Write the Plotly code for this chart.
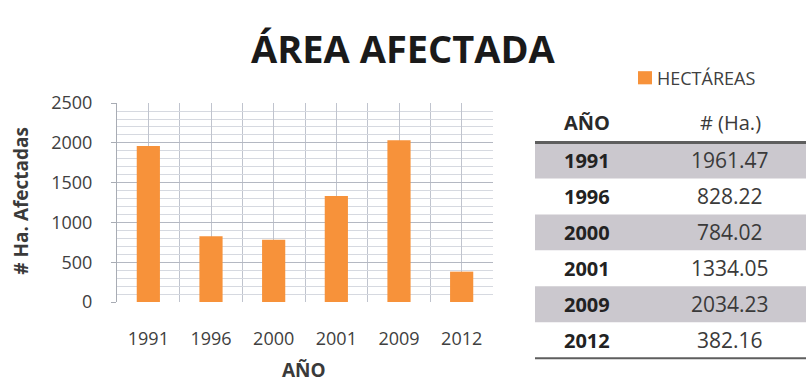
import plotly.graph_objects as go

# Hectares affected per year
years = ["1991", "1996", "2000", "2001", "2009", "2012"]
hectares = [1961.47, 828.22, 784.02, 1334.05, 2034.23, 382.16]
y_ticks = [0, 500, 1000, 1500, 2000, 2500]

W, H = 806, 390
# plot area in pixels
PX0, PX1, PY0, PY1 = 117, 493, 96, 308

ORANGE = "#F7923A"
TXT = "#3a3a3a"
FONT = "Open Sans"


def fx(px):
    return px / W


def fy(py):
    return 1 - py / H


idx = list(range(len(years)))

fig = go.Figure()
fig.add_trace(go.Bar(
    x=idx, y=hectares, width=0.37,
    marker=dict(color=ORANGE, line=dict(width=0)),
    name="HECTÁREAS", showlegend=False,
))

fig.update_layout(
    width=W, height=H,
    margin=dict(l=0, r=0, t=0, b=0),
    paper_bgcolor="white", plot_bgcolor="white",
    font=dict(family=FONT, color=TXT),
    xaxis=dict(
        domain=[fx(PX0), fx(PX1)], range=[-0.5, len(years) - 0.5],
        tickmode="array", tickvals=idx, ticktext=years,
        tickfont=dict(size=18, color="#404040"),
        ticklabelstandoff=24,
        showgrid=True, gridcolor="#c0c4ce", gridwidth=1,
        minor=dict(dtick=0.5, tick0=-0.5, showgrid=True,
                   gridcolor="#c0c4ce", gridwidth=1),
        showline=False, zeroline=False, ticks="",
        fixedrange=True,
    ),
    yaxis=dict(
        domain=[fy(PY1), fy(PY0)], range=[0, 2500],
        tickmode="array", tickvals=y_ticks,
        tickfont=dict(size=18, color="#404040"),
        ticklabelstandoff=15,
        showgrid=True, gridcolor="#b4b8c2", gridwidth=1,
        minor=dict(dtick=100, showgrid=True, gridcolor="#d6d9e0", gridwidth=1),
        showline=True, linecolor="#a8acb4", linewidth=1,
        ticks="outside", ticklen=5, tickcolor="#a8acb4",
        zeroline=False, fixedrange=True,
    ),
)

ann = []
shapes = []

# title and axis titles
ann.append(dict(x=fx(403), y=fy(37), xref="paper", yref="paper",
                text="<b>ÁREA AFECTADA</b>", showarrow=False,
                font=dict(size=38, color="#1a1a1a", family=FONT),
                xanchor="center", yanchor="middle"))
ann.append(dict(x=fx(304), y=fy(380), xref="paper", yref="paper",
                text="<b>AÑO</b>", showarrow=False,
                font=dict(size=19, color=TXT, family=FONT),
                xanchor="center", yanchor="middle"))
ann.append(dict(x=fx(21), y=fy(200), xref="paper", yref="paper",
                text="<b># Ha. Afectadas</b>", showarrow=False, textangle=-90,
                font=dict(size=19, color=TXT, family=FONT),
                xanchor="center", yanchor="middle"))

# legend entry
shapes.append(dict(type="rect", xref="paper", yref="paper",
                   x0=fx(638), x1=fx(652), y0=fy(76), y1=fy(62),
                   fillcolor=ORANGE, line=dict(width=0)))
ann.append(dict(x=fx(655), y=fy(69), xref="paper", yref="paper",
                text="HECTÁREAS", showarrow=False,
                font=dict(size=18, color="#404040", family=FONT),
                xanchor="left", yanchor="middle"))

# data table
TX0, TX1 = 535, 806
header_y = 117
row_top = 138
row_h = 38.3
COL_YEAR = 562
COL_VAL = 730
ann.append(dict(x=fx(COL_YEAR), y=fy(header_y), xref="paper", yref="paper",
                text="<b>AÑO</b>", showarrow=False,
                font=dict(size=20, color="#2a2a2a", family=FONT),
                xanchor="left", yanchor="middle"))
ann.append(dict(x=fx(COL_VAL), y=fy(header_y), xref="paper", yref="paper",
                text="# (Ha.)", showarrow=False,
                font=dict(size=20, color="#3a3a3a", family=FONT),
                xanchor="center", yanchor="middle"))

for i, (yr, v) in enumerate(zip(years, hectares)):
    top = row_top + i * row_h
    bot = top + row_h
    if i % 2 == 0:
        shapes.append(dict(type="rect", xref="paper", yref="paper",
                           x0=fx(TX0), x1=fx(TX1), y0=fy(bot), y1=fy(top),
                           fillcolor="#cbc8ce", line=dict(width=0), layer="below"))
    cy = (top + bot) / 2
    ann.append(dict(x=fx(COL_YEAR), y=fy(cy), xref="paper", yref="paper",
                    text=f"<b>{yr}</b>", showarrow=False,
                    font=dict(size=20, color="#222222", family=FONT),
                    xanchor="left", yanchor="middle"))
    ann.append(dict(x=fx(COL_VAL), y=fy(cy), xref="paper", yref="paper",
                    text=f"{v:.2f}", showarrow=False,
                    font=dict(size=21, color="#3a3a3a", family=FONT),
                    xanchor="center", yanchor="middle"))

table_bottom = row_top + len(years) * row_h
shapes.append(dict(type="line", xref="paper", yref="paper",
                   x0=fx(TX0), x1=fx(TX1), y0=fy(row_top), y1=fy(row_top),
                   line=dict(color="#5e5e5e", width=3)))
shapes.append(dict(type="line", xref="paper", yref="paper",
                   x0=fx(TX0), x1=fx(TX1), y0=fy(table_bottom), y1=fy(table_bottom),
                   line=dict(color="#5e5e5e", width=2)))

fig.update_layout(annotations=ann, shapes=shapes)
fig.write_html("out.html")
